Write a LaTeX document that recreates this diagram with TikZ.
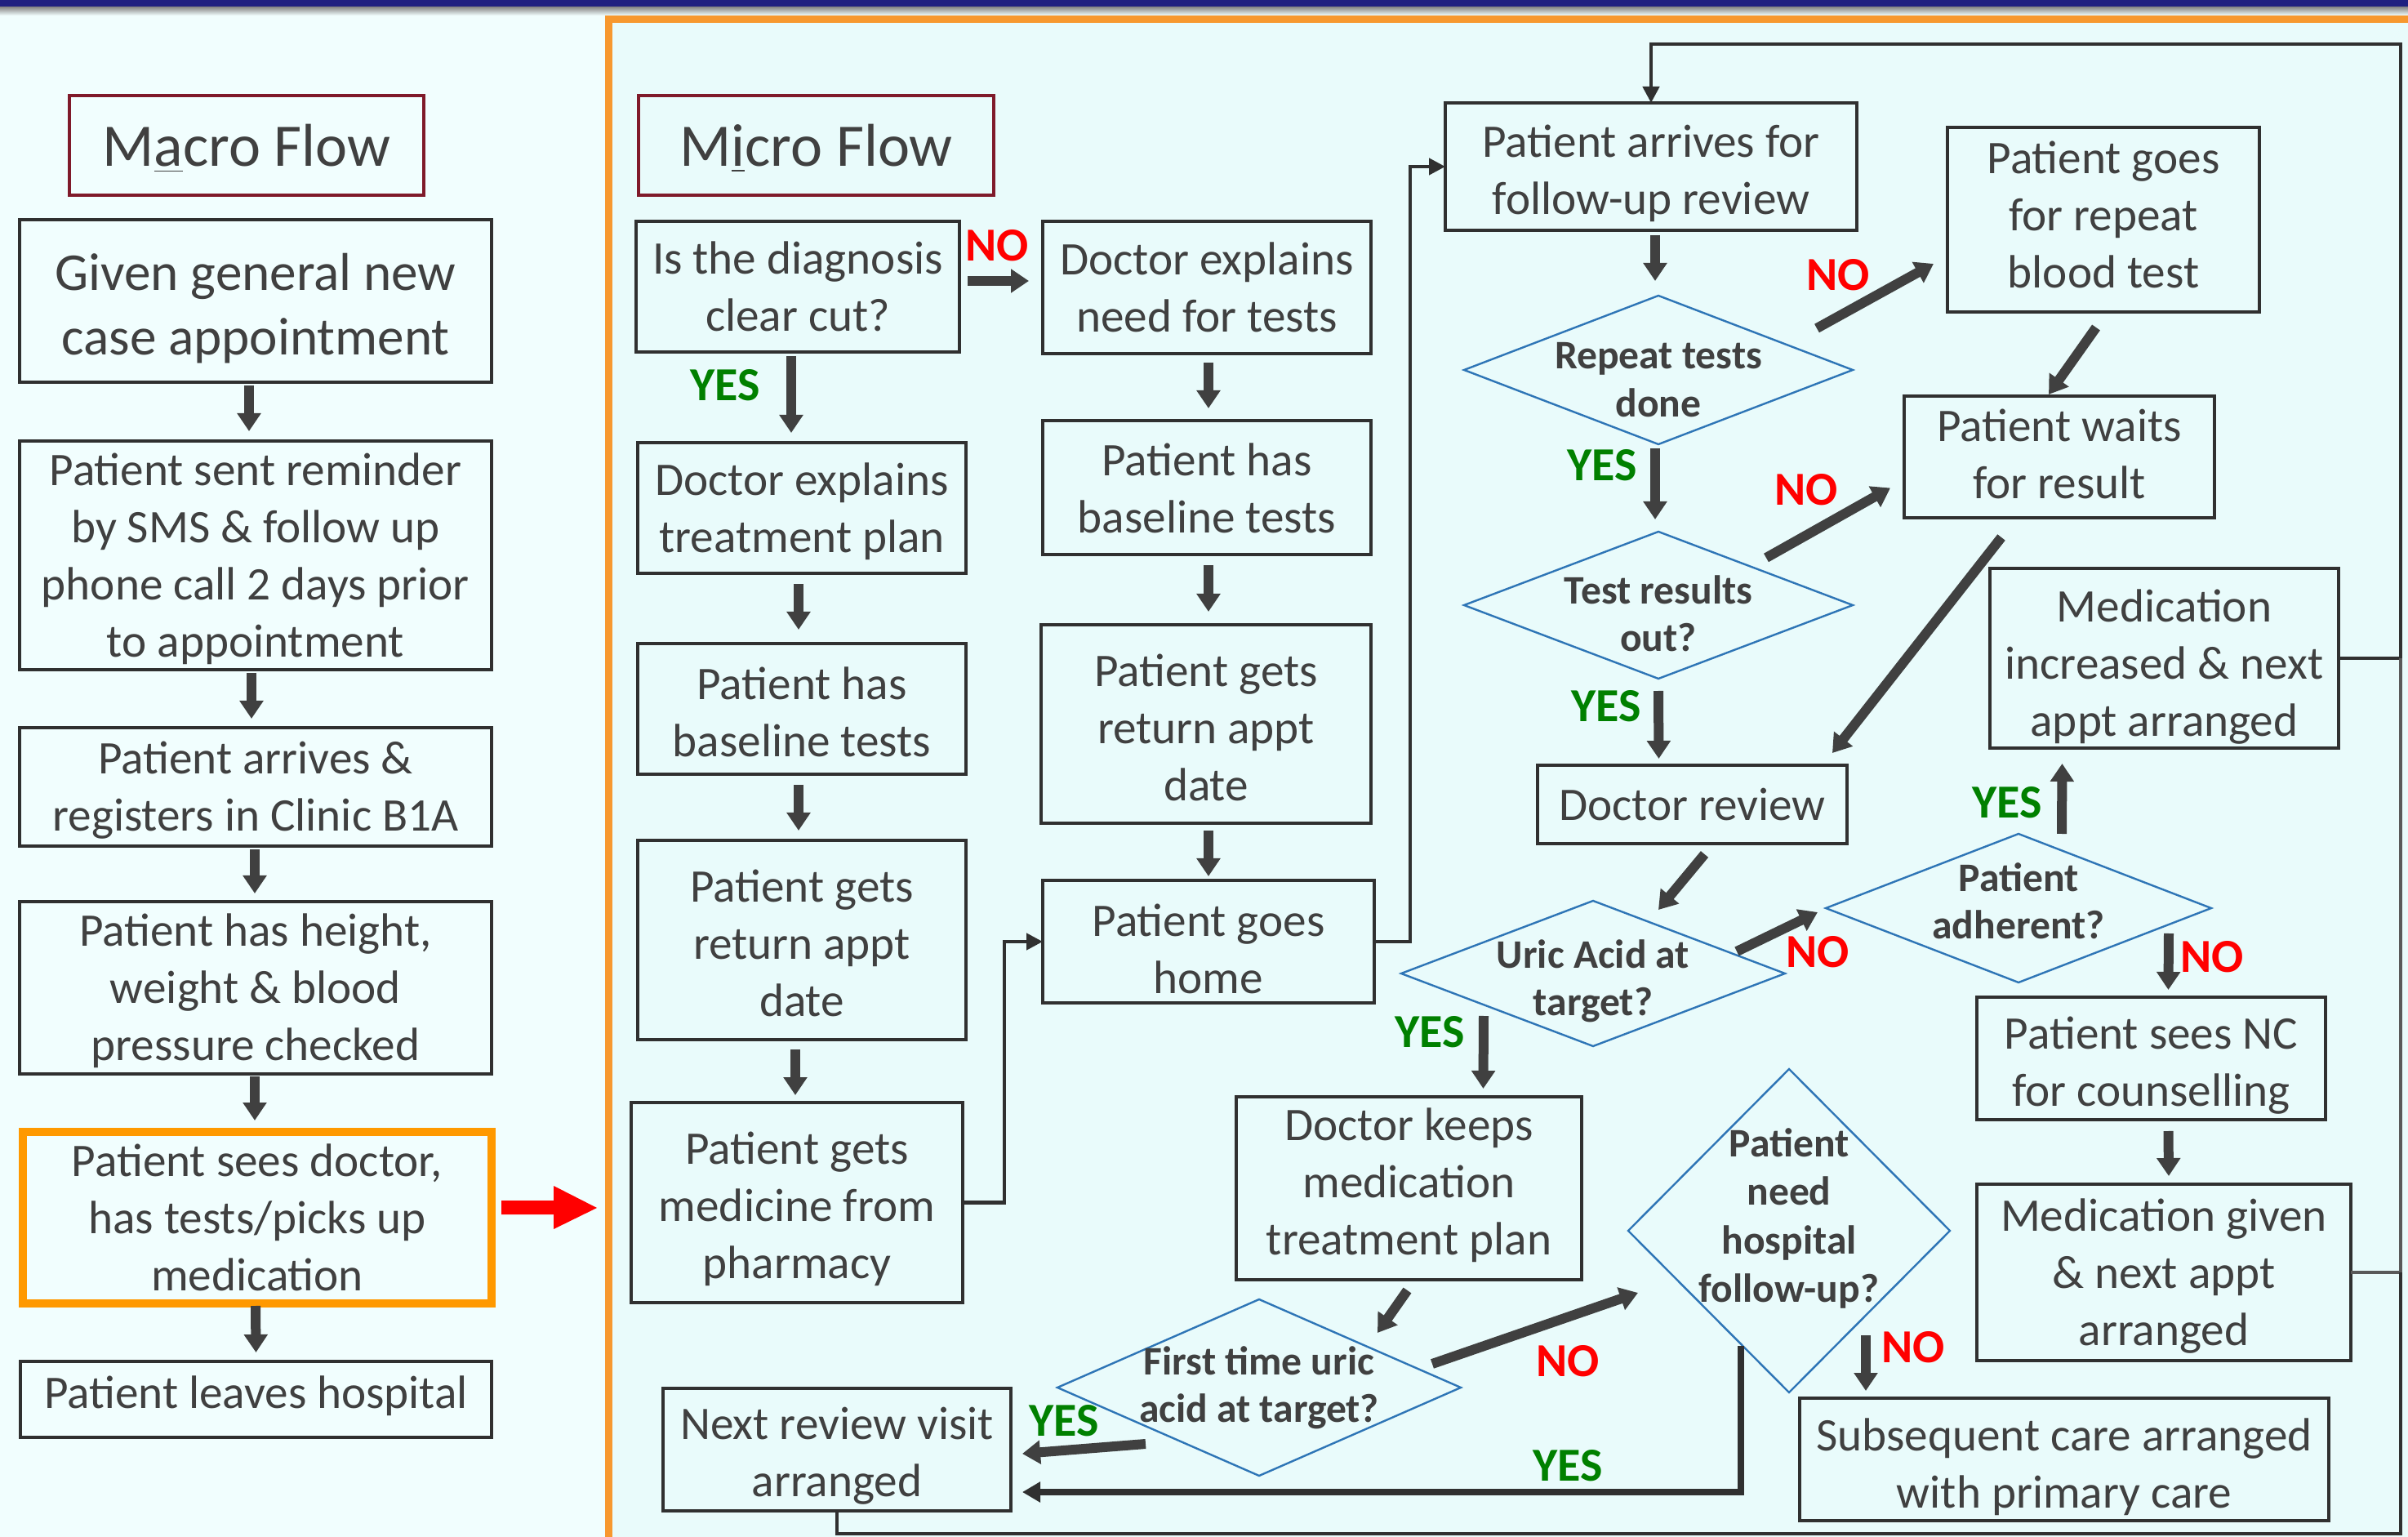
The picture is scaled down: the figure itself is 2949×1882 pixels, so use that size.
\documentclass[tikz,border=0pt]{standalone}
\usepackage{fontspec}
\setmainfont{Carlito}
\usetikzlibrary{arrows.meta,calc}
\definecolor{bgc}{HTML}{F1FEFE}
\definecolor{innerc}{HTML}{E9FBFB}
\definecolor{navy}{HTML}{1F1F80}
\definecolor{frameor}{HTML}{F7982F}
\definecolor{boxor}{HTML}{FF9900}
\definecolor{txt}{HTML}{404040}
\definecolor{bord}{HTML}{303030}
\definecolor{titler}{HTML}{7F1A2A}
\definecolor{diab}{HTML}{2E75B6}
\definecolor{yesg}{HTML}{008000}
\tikzset{
 box/.style={draw=bord, line width=1pt, text=txt, align=center, inner sep=0pt, outer sep=0pt, font=\fontsize{14.3}{17.5}\selectfont},
 bigbox/.style={font=\fontsize{16.3}{19.7}\selectfont},
 titlebox/.style={draw=titler, line width=0.8pt, font=\fontsize{18.5}{22}\selectfont},
 orbox/.style={draw=boxor, line width=2.5pt},
 dia/.style={text=txt, align=center, inner sep=0pt, outer sep=0pt, font=\bfseries\fontsize{12.4}{14.6}\selectfont},
 widedia/.style={font=\bfseries\fontsize{12.4}{14.9}\selectfont},
 diaedge/.style={draw=diab, line width=0.6pt},
 arr/.style={draw=txt, line width=3pt, -{Triangle[width=7pt,length=5.5pt]}},
 conn/.style={draw=bord, line width=1.1pt},
 connarr/.style={conn, -{Triangle[width=5pt,length=5pt]}},
 thickarr/.style={draw=bord, line width=2pt, -{Triangle[width=6pt,length=5.5pt]}},
 nolab/.style={text=red, font=\bfseries\fontsize{14.5}{16}\selectfont, inner sep=0pt},
 yeslab/.style={text=yesg, font=\bfseries\fontsize{14.5}{16}\selectfont, inner sep=0pt},
}
% \mkbox[text shift]{style}{name}{x1}{y1}{x2}{y2}{text}
\newcommand\mkbox[8][0]{%
\node[box,#2,minimum width={(#6-#4)*0.25pt},minimum height={(#7-#5)*0.25pt}] (#3) at ({(#4+#6)/2},{(#5+#7)/2}) {};
\node[box,#2,draw=none] (#3t) at ({(#4+#6)/2},{(#5+#7)/2+#1}) {#8};}
% \mkdia[text shift]{style}{name}{cx}{cy}{hw}{hh}{text}
\newcommand\mkdia[8][0]{%
\node[dia,#2,minimum width={2*#6*0.25pt},minimum height={2*#7*0.25pt}] (#3) at (#4,#5) {};
\draw[diaedge] (#3.west) -- (#3.north) -- (#3.east) -- (#3.south) -- cycle;
\node[dia,#2] (#3t) at (#4,{#5+#1}) {#8};}
\begin{document}
\begin{tikzpicture}[x=0.25pt,y=-0.25pt]
\useasboundingbox (0,0) rectangle (2949,1882);
\clip (0,0) rectangle (2949,1882);
\fill[bgc] (0,0) rectangle (2949,1882);
\fill[navy] (0,0) rectangle (2949,9);
\shade[top color=black!45, bottom color=bgc] (0,9) rectangle (2949,19);
\fill[innerc] (745,24) rectangle (2970,1900);
\draw[frameor, line width=2.25pt] (2970,24) -- (745,24) -- (745,1900);
% ---------- Macro flow ----------
\mkbox[4]{titlebox}{m0}{85}{117}{519}{239}{M\underline{a}cro Flow}
\mkbox[9]{bigbox}{m1}{24}{269}{602}{468}{Given general new\\case appointment}
\mkbox[4]{}{m2}{24}{540}{602}{820}{Patient sent reminder\\by SMS \& follow up\\phone call 2 days prior\\to appointment}
\mkbox[4]{}{m3}{24}{891}{602}{1036}{Patient arrives \&\\registers in Clinic B1A}
\mkbox[4]{}{m4}{24}{1104}{602}{1315}{Patient has height,\\weight \& blood\\pressure checked}
\mkbox[0]{orbox}{m5}{28}{1386}{602}{1596}{Patient sees doctor,\\has tests/picks up\\medication}
\mkbox[-4]{}{m6}{25}{1667}{602}{1760}{Patient leaves hospital}
\draw[arr] ($(m1.south)+(-8,4)$) -- ($(m2.north)+(-8,-12)$);
\draw[arr] ($(m2.south)+(-5,4)$) -- ($(m3.north)+(-5,-11)$);
\draw[arr] ($(m3.south)+(-1,4)$) -- ($(m4.north)+(-1,-10)$);
\draw[arr] ($(m4.south)+(-1,3)$) -- ($(m5.north)+(-3,-14)$);
\draw[arr] ($(m5.south)+(-2,3)$) -- ($(m6.north)+(0,-11)$);
\fill[red] ($(m5.east)+(12,-21)$) -- ++(64,0) -- ++(0,-18) -- ++(53,27) -- ++(-53,26) -- ++(0,-18) -- ++(-64,0) -- cycle;
% ---------- Micro flow ----------
\mkbox[4]{titlebox}{t1}{782}{117}{1217}{239}{M\underline{i}cro Flow}
\mkbox[0]{}{a1}{779}{271}{1175}{431}{Is the diagnosis\\clear cut?}
\mkbox[4]{}{a2}{781}{542}{1183}{702}{Doctor explains\\treatment plan}
\mkbox[4]{}{a3}{781}{788}{1183}{948}{Patient has\\baseline tests}
\mkbox[4]{}{a4}{781}{1029}{1183}{1273}{Patient gets\\return appt\\date}
\mkbox[8]{}{a5}{773}{1350}{1179}{1595}{Patient gets\\medicine from\\pharmacy}
\mkbox[0]{}{b1}{1277}{271}{1679}{433}{Doctor explains\\need for tests}
\mkbox[1]{}{b2}{1277}{515}{1679}{679}{Patient has\\baseline tests}
\mkbox[4]{}{b3}{1275}{765}{1679}{1008}{Patient gets\\return appt\\date}
\mkbox[9]{}{b4}{1277}{1078}{1683}{1228}{Patient goes\\home}
\mkbox[8]{}{c1}{1770}{126}{2274}{282}{Patient arrives for\\follow-up review}
\mkbox[-6]{}{c2}{2385}{156}{2767}{382}{Patient goes\\for repeat\\blood test}
\mkbox[-4]{}{c3}{2332}{485}{2712}{634}{Patient waits\\for result}
\mkbox[0]{}{c4}{1883}{937}{2262}{1033}{Doctor review}
\mkbox[11]{}{c5}{2437}{696}{2864}{916}{Medication\\increased \& next\\appt arranged}
\mkbox[9]{}{c6}{2421}{1221}{2848}{1371}{Patient sees NC\\for counselling}
\mkbox[5]{}{c7}{2421}{1450}{2879}{1666}{Medication given\\\& next appt\\arranged}
\mkbox[-4]{}{c8}{1514}{1343}{1937}{1567}{Doctor keeps\\medication\\treatment plan}
\mkbox[9]{}{c9}{2204}{1712}{2852}{1862}{Subsequent care arranged\\with primary care}
\mkbox[8]{}{c10}{812}{1700}{1238}{1850}{Next review visit\\arranged}
\mkdia[12]{}{d1}{2031}{453}{238}{91}{Repeat tests\\done}
\mkdia[10]{}{d2}{2031}{741}{238}{90}{Test results\\out?}
\mkdia[9]{}{d3}{1951}{1192}{235}{89}{Uric Acid at\\target?}
\mkdia[-9]{}{d4}{2472}{1112}{236}{91}{Patient\\adherent?}
\mkdia[0]{}{d5}{1542}{1699}{247}{108}{First time uric\\acid at target?}
\mkdia[-15]{widedia}{d6}{2191}{1507}{197}{198}{Patient\\need\\hospital\\follow-up?}
% column A
\draw[arr] ($(a1.east)+(10,-7)$) -- ($(b1.west)+(-17,-8)$);
\draw[arr] ($(a1.south)+(-8,5)$) -- ($(a2.north)+(-13,-12)$);
\draw[arr] ($(a2.south)+(-4,13)$) -- ($(a3.north)+(-4,-17)$);
\draw[arr] ($(a3.south)+(-4,13)$) -- ($(a4.north)+(-4,-12)$);
\draw[arr] ($(a4.south)+(-8,12)$) -- ($(a5.north)+(-2,-9)$);
\draw[connarr] (a5.east) -- ++(51,0) |- (b4.west);
% column B
\draw[arr] ($(b1.south)+(2,11)$) -- ($(b2.north)+(2,-15)$);
\draw[arr] ($(b2.south)+(2,13)$) -- ($(b3.north)+(3,-16)$);
\draw[arr] ($(b3.south)+(3,9)$) -- ($(b4.north)+(0,-5)$);
\draw[connarr] (b4.east) -- ++(44,0) |- (c1.west);
% loop back
\coordinate (rt) at (2940,54);
\coordinate (rb) at (2940,1878);
\draw[connarr] (c5.east) -| (rt) -| (c1.north);
\draw[conn, draw=bord!80] (c7.east) -- (c7.east -| rt) -- (c5.east -| rt);
\draw[conn] (c10.south) |- (rb) -- (c7.east -| rb);
% column C
\draw[arr] ($(c1.south)+(5,6)$) -- ($(d1.north)+(-4,-18)$);
\draw[arr] ($(d1.center)+(194,-51)$) -- ($(c2.west)+(-17,54)$);
\draw[arr] ($(c2.south)+(-9,19)$) -- ($(c3.north)+(-13,-2)$);
\draw[arr] ($(d1.south)+(-4,5)$) -- ($(d2.north)+(-4,-15)$);
\draw[arr] ($(d2.center)+(132,-58)$) -- ($(c3.west)+(-17,38)$);
\draw[arr] ($(d2.south)+(0,15)$) -- ($(c4.north)+(-41,-8)$);
\draw[arr] ($(c3.south)+(-71,24)$) -- ($(c4.north east)+(-18,-15)$);
\draw[arr] ($(c4.south)+(15,13)$) -- ($(d3.north)+(80,11)$);
\draw[arr] ($(d3.center)+(176,-27)$) -- ($(d4.west)+(-10,5)$);
\draw[arr] ($(d4.north)+(53,0)$) -- ($(c5.south)+(-125,19)$);
\draw[arr] ($(d4.center)+(184,31)$) -- ($(c6.north)+(21,-9)$);
\draw[arr] ($(c6.south)+(21,14)$) -- ($(c7.north)+(6,-10)$);
\draw[arr] ($(d3.center)+(-134,52)$) -- ($(c8.north)+(91,-10)$);
\draw[arr] ($(c8.south)+(-2,13)$) -- ($(d5.north)+(145,41)$);
\draw[arr] ($(d5.center)+(212,-29)$) -- ($(d6.west)+(12,76)$);
\draw[arr] ($(d6.center)+(94,128)$) -- ($(c9.north)+(-243,-9)$);
\draw[thickarr] ($(d6.center)+(-59,141)$) |- ($(c10.east)+(14,52)$);
\draw[arr] ($(d5.center)+(-139,69)$) -- ($(c10.east)+(14,5)$);
% labels
\node[nolab] (l1) at (1221,301) {NO};
\node[yeslab] (l2) at (888,472) {YES};
\node[nolab] (l3) at (2251,337) {NO};
\node[yeslab] (l4) at (1962,570) {YES};
\node[nolab] (l5) at (2212,600) {NO};
\node[yeslab] (l6) at (1967,865) {YES};
\node[nolab] (l7) at (2226,1166) {NO};
\node[yeslab] (l8) at (2458,983) {YES};
\node[nolab] (l9) at (2709,1172) {NO};
\node[yeslab] (l10) at (1751,1264) {YES};
\node[nolab] (l11) at (1920,1667) {NO};
\node[nolab] (l12) at (2343,1650) {NO};
\node[yeslab] (l13) at (1303,1740) {YES};
\node[yeslab] (l14) at (1920,1795) {YES};
\end{tikzpicture}
\end{document}
